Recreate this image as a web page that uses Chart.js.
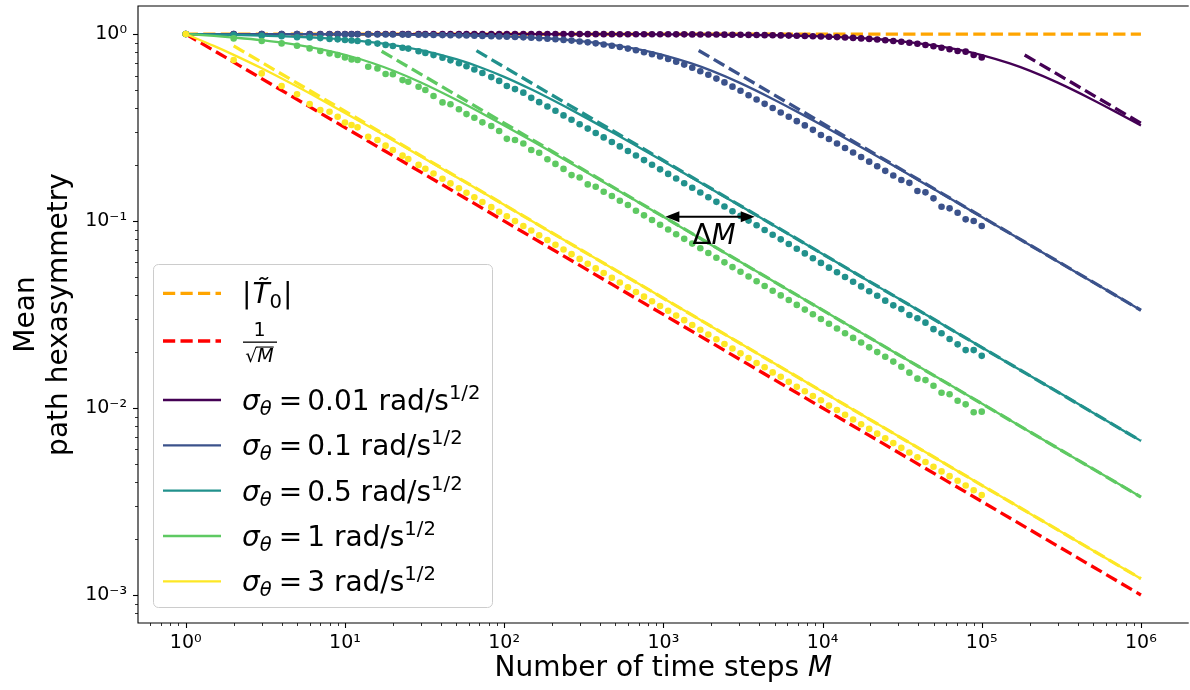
<!DOCTYPE html>
<html><head><meta charset="utf-8">
<script src="https://cdn.jsdelivr.net/npm/chart.js@4.4.0/dist/chart.umd.min.js"></script>
<style>html,body{margin:0;padding:0;background:#fff;overflow:hidden;}canvas{display:block;}</style>
</head><body>
<canvas id="c" width="1190" height="690" style="width:1190px;height:690px"></canvas>
<script>
// ---------------- data ----------------
const SIGMA_LABELS = ['0.01', '0.1', '0.5', '1', '3'];
const SIGMA_COLORS = ['#440154', '#3b528b', '#21918c', '#5ec962', '#fde725'];

// theory curves (solid)
const M_THEORY = [1,1.5,2,3,5,7,10,15,20,30,50,70,100,150,200,300,500,700,1000,1500,2000,3000,5000,7000,10000,15000,20000,30000,50000,70000,100000,150000,200000,300000,500000,700000,1000000];
const THEORY_001 = [1,1,1,1,1,1,1,1,1,0.9999,0.9999,0.9998,0.9997,0.9996,0.9994,0.9991,0.9985,0.9979,0.997,0.9955,0.994,0.991,0.985,0.9794,0.9709,0.957,0.9435,0.9176,0.87,0.8276,0.7719,0.6963,0.6368,0.5496,0.4444,0.3823,0.3239];
const THEORY_01 = [1,0.9996,0.9994,0.9991,0.9985,0.9979,0.997,0.9955,0.994,0.991,0.985,0.9794,0.9709,0.957,0.9435,0.9176,0.87,0.8276,0.7719,0.6963,0.6368,0.5496,0.4444,0.3823,0.3239,0.2671,0.2324,0.1907,0.1482,0.1255,0.1051,0.0859,0.0744,0.0608,0.0471,0.0398,0.0333];
const THEORY_05 = [1,0.994,0.9889,0.9805,0.9674,0.9536,0.9336,0.9021,0.8729,0.8201,0.7336,0.6663,0.59,0.5031,0.4449,0.3707,0.2916,0.248,0.2085,0.1709,0.1482,0.1213,0.0941,0.0796,0.0666,0.0544,0.0471,0.0385,0.0298,0.0252,0.0211,0.0172,0.0149,0.0122,0.00943,0.00797,0.00667];
const THEORY_1 = [1,0.9765,0.9579,0.9272,0.8757,0.8316,0.7748,0.6982,0.6382,0.5507,0.4452,0.3829,0.3244,0.2675,0.2327,0.1909,0.1485,0.1257,0.1053,0.086,0.0745,0.0609,0.0472,0.0399,0.0334,0.02725,0.0236,0.01927,0.01493,0.01262,0.01056,0.00862,0.00746,0.00609,0.00472,0.00399,0.00334];
const THEORY_3 = [1,0.8639,0.774,0.656,0.5236,0.4481,0.3784,0.3112,0.2704,0.2216,0.1721,0.1456,0.122,0.0997,0.0863,0.0705,0.0546,0.0462,0.0386,0.0316,0.0273,0.0223,0.0173,0.0146,0.0122,0.00998,0.00864,0.00706,0.00547,0.00462,0.00386,0.00316,0.00273,0.00223,0.00173,0.00146,0.00122];

// simulation points (dots)
const M_SIM = [1,2,3,4,5,6,7,8,9,10,11,12,14,16,18,20,23,25,29,32,36,41,46,52,58,65,73,83,93,104,117,132,148,166,187,210,236,265,298,335,376,422,475,533,599,673,756,849,954,1072,1204,1352,1519,1707,1917,2154,2420,2718,3053,3430,3853,4328,4862,5462,6135,6892,7742,8697,9770,10975,12328,13849,15556,17475,19630,22051,24770,27825,31257,35111,39442,44306,49770,55908,62802,70548,79248,89022,100000];
const SIM_001 = [1,1,1,1,1,1,1,1,1,1,1,1,1,1,1,1,1,1,1,1,1,1,1,1,1,1,1,1,1,
  1,1,1,1,0.9995,0.9994,0.9994,0.9993,0.9992,0.9991,0.999,0.9989,0.9987,0.9986,0.9984,0.9982,0.998,0.9977,0.9975,0.9971,
  0.9968,0.9964,0.996,0.9955,0.9949,0.9943,0.9936,0.9928,0.992,0.991,0.9894,0.988,0.9866,0.985,0.9832,0.981,0.9787,0.976,0.973,0.97,
  0.967,0.9632,0.9581,0.9534,0.9478,0.9417,0.9348,0.927,0.9185,0.909,0.8986,0.8871,0.8744,0.8606,0.8454,0.8289,0.811,0.805,0.772,0.75];
const SIM_01 = [1,0.9994,0.999,0.9988,0.9985,0.9982,0.9979,0.9976,0.9973,0.997,0.9967,0.9964,0.9958,0.9952,0.9946,0.994,0.9931,0.9925,0.9913,0.9904,0.9887,0.9872,0.9857,0.9839,0.9821,0.98,0.9776,0.9746,0.9716,
  0.9687,0.9647,0.9603,0.9556,0.9504,0.9443,0.9377,0.9303,0.9222,0.9131,0.903,0.892,0.8799,0.8665,0.8519,0.8359,0.8184,0.7997,0.7796,0.7581,
  0.7353,0.7119,0.6863,0.6604,0.6329,0.6054,0.5778,0.5513,0.5232,0.4973,0.471,0.4462,0.4232,0.4023,0.3802,0.3611,0.342,0.3246,0.3074,0.2883,
  0.2747,0.2599,0.2459,0.2325,0.2198,0.2078,0.1964,0.1855,0.1753,0.1656,0.16,0.1447,0.1423,0.1322,0.1193,0.1169,0.1108,0.1021,0.1,0.094];
const SIM_05 = [1,0.9886,0.9798,0.9735,0.962,0.9587,0.9514,0.941,0.937,0.93,0.923,0.918,0.902,0.889,0.875,0.863,0.845,0.836,0.8095,0.7927,0.7714,0.7466,0.7233,0.6974,0.6726,0.6463,0.6191,0.5884,0.5616,
  0.527,0.5077,0.486,0.4559,0.4322,0.4096,0.3885,0.3672,0.3481,0.3295,0.3121,0.2957,0.28,0.2647,0.2506,0.2369,0.224,0.2117,0.2001,0.189,
  0.1786,0.1687,0.1593,0.1505,0.142,0.1341,0.1266,0.1195,0.1128,0.1065,0.1005,0.0949,0.0895,0.0845,0.0798,0.0753,0.0711,0.0671,0.0632,0.0597,
  0.0563,0.0532,0.0502,0.0473,0.0447,0.0421,0.0398,0.0375,0.0354,0.0338,0.0314,0.0302,0.0286,0.0264,0.0251,0.0234,0.0219,0.0204,0.0204,0.019];
const SIM_1 = [1,0.948,0.918,0.891,0.866,0.838,0.811,0.788,0.772,0.75,0.732,0.726,0.669,0.655,0.611,0.609,0.567,0.556,0.523,0.502,0.466,0.431,0.421,0.396,0.373,0.357,0.337,0.322,0.303,
  0.275,0.271,0.26,0.24,0.232,0.214,0.202,0.19,0.176,0.171,0.157,0.1526,0.1435,0.136,0.1284,0.1218,0.1135,0.1072,0.1012,0.0955,
  0.0901,0.085,0.0803,0.0757,0.0715,0.0674,0.0636,0.0601,0.0567,0.0535,0.0505,0.0476,0.0449,0.0424,0.04,0.0378,0.0356,0.0336,0.0317,0.0299,
  0.0282,0.0266,0.0251,0.0237,0.0224,0.0211,0.0199,0.0188,0.0177,0.01663,0.01545,0.01435,0.0141,0.01316,0.01207,0.01184,0.01094,0.01046,0.00948,0.00956];
const SIM_3 = [1,0.726,0.616,0.527,0.476,0.422,0.392,0.384,0.361,0.336,0.326,0.317,0.282,0.271,0.253,0.24,0.2237,0.2148,0.1996,0.1902,0.1794,0.1683,0.1589,0.1496,0.1417,0.1339,0.1264,0.1186,0.112,
  0.106,0.0999,0.0941,0.0889,0.0839,0.0791,0.0746,0.0704,0.0665,0.0627,0.0591,0.0558,0.0527,0.0497,0.0469,0.0442,0.0417,0.0394,0.0372,0.0351,
  0.0331,0.0312,0.0295,0.0278,0.0262,0.0247,0.0233,0.022,0.0208,0.0196,0.0185,0.0174,0.0165,0.0155,0.0147,0.0138,0.013,0.0123,0.0116,0.011,
  0.0103,0.00975,0.0092,0.00868,0.00819,0.00773,0.00729,0.00688,0.00649,0.00612,0.00578,0.00545,0.00514,0.00485,0.00458,0.00432,0.00408,0.00385,0.00363,0.00342];

// large-M asymptotes (dashed, same colours)
const ASYM_M_001 = [186000, 1000000], ASYM_001 = [0.773, 0.3333];
const ASYM_M_01 = [1667, 1000000], ASYM_01 = [0.8165, 0.03333];
const ASYM_M_05 = [67, 1000000], ASYM_05 = [0.8146, 0.006668];
const ASYM_M_1 = [17, 1000000], ASYM_1 = [0.8095, 0.003338];
const ASYM_M_3 = [2, 1000000], ASYM_3 = [0.8642, 0.001222];

// reference lines
const REF_M = [1, 1000000];
const T0_ABS = [1, 1];
const INV_SQRT_M = [1, 0.001];

// ΔM annotation (data coordinates)
const DELTA_ARROW_M = [1030, 3750];
const DELTA_ARROW_Y = 0.1055;
const DELTA_LABEL_AT = [2083, 0.0758];

// axis ranges & decade ticks (right edge of the axes lies just past the picture)
const X_RANGE = [Math.pow(10, -0.3), Math.pow(10, 6.2875)];
const Y_RANGE = [Math.pow(10, -3.15), Math.pow(10, 0.15)];
const X_DECADES = [-1, 0, 1, 2, 3, 4, 5, 6];
const Y_DECADES = [-4, -3, -2, -1, 0];

// ---------------- helpers ----------------
const FONT = '"DejaVu Sans", "Liberation Sans", sans-serif';
const SUP = {'0':'\u2070','1':'\u00b9','2':'\u00b2','3':'\u00b3','4':'\u2074','5':'\u2075','6':'\u2076','7':'\u2077','8':'\u2078','9':'\u2079','-':'\u207b'};
function powLabel(v) {
  const l = Math.log10(v), e = Math.round(l);
  if (Math.abs(l - e) > 1e-6) return '';
  return '10' + String(e).split('').map(c => SUP[c]).join('');
}
function logTicks(decades, range) {
  const out = [];
  for (const d of decades) for (let m = 1; m <= 9; m++) {
    const v = m * Math.pow(10, d);
    if (v >= range[0] * 0.9999 && v <= range[1] * 1.0001) out.push({ value: v, major: m === 1 });
  }
  return out;
}
const X_TICKS = logTicks(X_DECADES, X_RANGE);
const Y_TICKS = logTicks(Y_DECADES, Y_RANGE);
const pts = (xs, ys) => xs.map((x, i) => ({ x, y: ys[i] }));

const DASH = [12.2, 5.3];
const datasets = [];
datasets.push({ data: pts(REF_M, T0_ABS), showLine: true, borderColor: '#ffa500', borderWidth: 3.3, borderDash: DASH, pointRadius: 0 });
datasets.push({ data: pts(REF_M, INV_SQRT_M), showLine: true, borderColor: '#ff0000', borderWidth: 3.3, borderDash: DASH, pointRadius: 0 });
const THEORY = [THEORY_001, THEORY_01, THEORY_05, THEORY_1, THEORY_3];
const SIM = [SIM_001, SIM_01, SIM_05, SIM_1, SIM_3];
const ASYM_M = [ASYM_M_001, ASYM_M_01, ASYM_M_05, ASYM_M_1, ASYM_M_3];
const ASYM = [ASYM_001, ASYM_01, ASYM_05, ASYM_1, ASYM_3];
for (let i = 0; i < 5; i++) {
  const c = SIGMA_COLORS[i];
  datasets.push({ data: pts(M_THEORY, THEORY[i]), showLine: true, borderColor: c, borderWidth: 2.3, pointRadius: 0, cubicInterpolationMode: 'monotone' });
  datasets.push({ data: pts(ASYM_M[i], ASYM[i]), showLine: true, borderColor: c, borderWidth: 3.3, borderDash: DASH, pointRadius: 0 });
  datasets.push({ data: pts(M_SIM, SIM[i]), showLine: false, backgroundColor: c, borderWidth: 0, pointRadius: 3.3, pointHoverRadius: 3.3 });
}
datasets.forEach((d, i) => { d.order = 100 - i; });

function runs(ctx, x, y, parts) {
  for (const p of parts) {
    if (p.gap) { x += p.gap; continue; }
    ctx.font = (p.it ? 'italic ' : '') + p.size + 'px ' + FONT;
    ctx.fillText(p.t, x, y + (p.dy || 0));
    x += ctx.measureText(p.t).width;
  }
  return x;
}
function runsWidth(ctx, parts) {
  let w = 0;
  for (const p of parts) {
    if (p.gap) { w += p.gap; continue; }
    ctx.font = (p.it ? 'italic ' : '') + p.size + 'px ' + FONT;
    w += ctx.measureText(p.t).width;
  }
  return w;
}

const decor = {
  id: 'decor',
  afterDatasetsDraw(chart) {
    const { ctx, chartArea: a, scales: { x, y } } = chart;
    ctx.save();
    ctx.strokeStyle = '#000';
    ctx.setLineDash([]);
    // ticks
    for (const t of X_TICKS) {
      const px = Math.round(x.getPixelForValue(t.value)) + 0.5;
      ctx.lineWidth = t.major ? 1.1 : 0.8;
      ctx.beginPath(); ctx.moveTo(px, a.bottom); ctx.lineTo(px, a.bottom + (t.major ? 5 : 3)); ctx.stroke();
    }
    for (const t of Y_TICKS) {
      const py = Math.round(y.getPixelForValue(t.value)) + 0.5;
      ctx.lineWidth = t.major ? 1.1 : 0.8;
      ctx.beginPath(); ctx.moveTo(a.left, py); ctx.lineTo(a.left - (t.major ? 5 : 3), py); ctx.stroke();
    }
    // ΔM arrow
    const ax1 = x.getPixelForValue(DELTA_ARROW_M[0]), ax2 = x.getPixelForValue(DELTA_ARROW_M[1]);
    const ay = y.getPixelForValue(DELTA_ARROW_Y);
    const hl = 14, hw = 5.5;
    ctx.lineWidth = 2;
    ctx.beginPath(); ctx.moveTo(ax1 + hl - 2, ay); ctx.lineTo(ax2 - hl + 2, ay); ctx.stroke();
    ctx.fillStyle = '#000';
    ctx.beginPath(); ctx.moveTo(ax1, ay); ctx.lineTo(ax1 + hl, ay - hw); ctx.lineTo(ax1 + hl, ay + hw); ctx.closePath(); ctx.fill();
    ctx.beginPath(); ctx.moveTo(ax2, ay); ctx.lineTo(ax2 - hl, ay - hw); ctx.lineTo(ax2 - hl, ay + hw); ctx.closePath(); ctx.fill();
    const lx = x.getPixelForValue(DELTA_LABEL_AT[0]), ly = y.getPixelForValue(DELTA_LABEL_AT[1]);
    const dparts = [{ t: '\u0394', size: 28 }, { t: 'M', size: 28, it: true }];
    ctx.textAlign = 'left'; ctx.textBaseline = 'alphabetic';
    runs(ctx, lx - runsWidth(ctx, dparts) / 2, ly, dparts);
    // frame: top, left, bottom (right spine lies outside the picture)
    ctx.lineWidth = 1.1;
    ctx.beginPath();
    ctx.moveTo(a.right + 2, a.top); ctx.lineTo(a.left, a.top); ctx.lineTo(a.left, a.bottom); ctx.lineTo(a.right + 2, a.bottom);
    ctx.stroke();
    ctx.restore();
  },
  afterDraw(chart) {
    const { ctx, chartArea: a } = chart;
    ctx.save();
    ctx.fillStyle = '#000';
    ctx.textAlign = 'left'; ctx.textBaseline = 'alphabetic';
    // x title, centred on the full axes (whose right edge is 1192 px)
    const xCenter = (a.left + chart.scales.x.getPixelForValue(Math.pow(10, 6.3))) / 2;
    const xparts = [{ t: 'Number of time steps ', size: 28 }, { t: 'M', size: 28, it: true }];
    runs(ctx, xCenter - runsWidth(ctx, xparts) / 2, 676, xparts);

    // legend
    const bx = 153.5, by = 264.5, bw = 339, bh = 343, r = 5;
    ctx.beginPath();
    ctx.moveTo(bx + r, by); ctx.lineTo(bx + bw - r, by); ctx.arcTo(bx + bw, by, bx + bw, by + r, r);
    ctx.lineTo(bx + bw, by + bh - r); ctx.arcTo(bx + bw, by + bh, bx + bw - r, by + bh, r);
    ctx.lineTo(bx + r, by + bh); ctx.arcTo(bx, by + bh, bx, by + bh - r, r);
    ctx.lineTo(bx, by + r); ctx.arcTo(bx, by, bx + r, by, r); ctx.closePath();
    ctx.fillStyle = 'rgba(255,255,255,0.8)'; ctx.fill();
    ctx.strokeStyle = '#cccccc'; ctx.lineWidth = 1; ctx.stroke();

    const sx0 = 163, sx1 = 221, tx = 242;
    const rowsY = [293.3, 341, 400, 445.3, 490.7, 536, 581.3];
    const sample = (yc, color, dashed) => {
      ctx.save();
      ctx.strokeStyle = color; ctx.lineWidth = dashed ? 3.3 : 2.3;
      ctx.setLineDash(dashed ? DASH : []);
      ctx.beginPath(); ctx.moveTo(sx0, yc); ctx.lineTo(sx1, yc); ctx.stroke();
      ctx.restore();
    };
    ctx.fillStyle = '#000';
    // |T0|
    sample(rowsY[0], '#ffa500', true);
    runs(ctx, tx, rowsY[0] + 10, [{ t: '|', size: 28 }, { gap: 1 }, { t: 'T\u0303', size: 28, it: true }, { t: '0', size: 19.6, dy: 5 }, { gap: 1 }, { t: '|', size: 28 }]);
    // 1/sqrt(M)
    sample(rowsY[1], '#ff0000', true);
    {
      const fc = tx + 17.5;
      ctx.textAlign = 'center';
      ctx.font = '19px ' + FONT; ctx.fillText('1', fc, rowsY[1] - 5);
      ctx.fillRect(tx + 1, rowsY[1] + 0.5, 34, 1.3);
      ctx.textAlign = 'left';
      const sq = [{ t: '\u221a', size: 19 }, { t: 'M', size: 19, it: true }];
      const w = runsWidth(ctx, sq);
      const x0 = fc - w / 2;
      ctx.font = '19px ' + FONT; const wr = ctx.measureText('\u221a').width;
      runs(ctx, x0, rowsY[1] + 21, sq);
      ctx.fillRect(x0 + wr - 1, rowsY[1] + 5.5, w - wr + 1, 1.1);
    }
    // sigma rows
    for (let i = 0; i < 5; i++) {
      const yc = rowsY[i + 2];
      sample(yc, SIGMA_COLORS[i], false);
      runs(ctx, tx, yc + 10, [
        { t: '\u03c3', size: 28, it: true },
        { t: '\u03b8', size: 19.6, it: true, dy: 5 },
        { gap: 7 }, { t: '=', size: 28 }, { gap: 5 },
        { t: SIGMA_LABELS[i] + ' rad/s', size: 28 },
        { t: '1/2', size: 19.6, dy: -11 }
      ]);
    }
    ctx.restore();
  }
};

new Chart(document.getElementById('c'), {
  type: 'scatter',
  data: { datasets },
  options: {
    responsive: false, animation: false, devicePixelRatio: 1,
    layout: { padding: { top: 6, right: 0, bottom: 0, left: 0 } },
    events: [],
    plugins: { legend: { display: false }, tooltip: { enabled: false } },
    scales: {
      x: {
        type: 'logarithmic', min: X_RANGE[0], max: X_RANGE[1],
        grid: { display: false, drawTicks: false }, border: { display: false },
        afterBuildTicks: s => { s.ticks = X_TICKS.map(t => ({ value: t.value })); },
        afterFit: s => { s.height = 67; s.paddingLeft = 0; s.paddingRight = 0; s.paddingTop = 0; s.paddingBottom = 0; },
        ticks: { autoSkip: false, maxRotation: 0, minRotation: 0, padding: 9, color: '#000', font: { family: FONT, size: 19 }, callback: v => powLabel(v) }
      },
      y: {
        type: 'logarithmic', min: Y_RANGE[0], max: Y_RANGE[1],
        grid: { display: false, drawTicks: false }, border: { display: false },
        afterBuildTicks: s => { s.ticks = Y_TICKS.map(t => ({ value: t.value })); },
        afterFit: s => { s.width = 138; s.paddingLeft = 0; s.paddingRight = 0; s.paddingTop = 0; s.paddingBottom = 0; },
        title: { display: true, text: ['Mean', 'path hexasymmetry'], color: '#000', font: { family: FONT, size: 28, lineHeight: 1.15 }, padding: { top: 11, bottom: 0 } },
        ticks: { autoSkip: false, padding: 11, color: '#000', font: { family: FONT, size: 19 }, callback: v => powLabel(v) }
      }
    }
  },
  plugins: [decor]
});
</script>
</body></html>
